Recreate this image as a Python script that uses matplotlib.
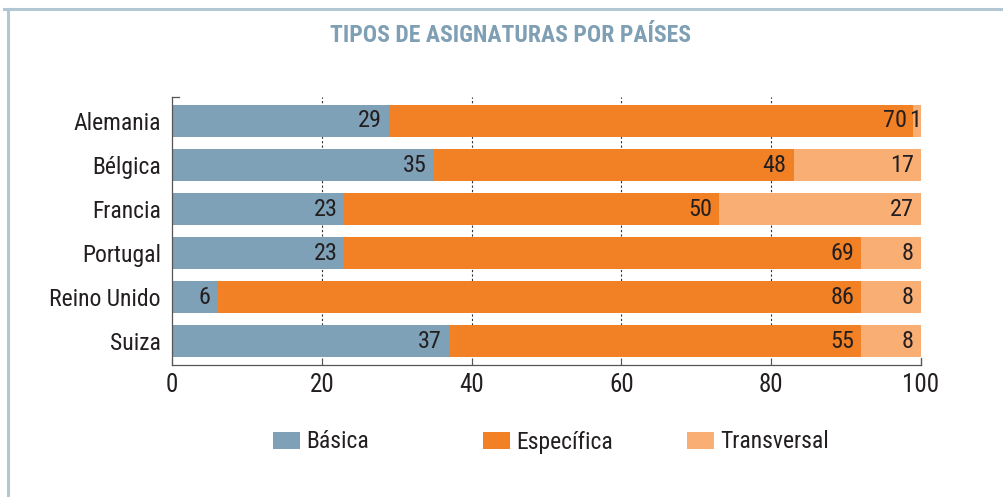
import matplotlib
matplotlib.use("Agg")
import matplotlib.pyplot as plt
from matplotlib import font_manager
from matplotlib.patches import Patch
from matplotlib.lines import Line2D

names = {f.name for f in font_manager.fontManager.ttflist}
FONT = None
for cand in ["Roboto Condensed", "Open Sans Condensed", "Liberation Sans Narrow", "Noto Sans Condensed"]:
    if cand in names:
        FONT = cand
        break
STRETCH = "normal"
if FONT is None:
    FONT = "DejaVu Sans"
    STRETCH = "condensed"
plt.rcParams['font.family'] = [FONT, 'DejaVu Sans']
plt.rcParams['font.stretch'] = STRETCH

countries = ["Alemania", "Bélgica", "Francia", "Portugal", "Reino Unido", "Suiza"]
basica = [29, 35, 23, 23, 6, 37]
especifica = [70, 48, 50, 69, 86, 55]
transversal = [1, 17, 27, 8, 8, 8]
series_names = ["Básica", "Específica", "Transversal"]
xticks = [0, 20, 40, 60, 80, 100]

colors = ["#7fa1b7", "#f28025", "#f9ae74"]
text_color = "#231f20"
FS = 17

fig = plt.figure(figsize=(10.04, 4.97), dpi=100)
ax = fig.add_axes([0.1713, 0.2656, 0.746, 0.5392])

# figure frame lines (top and left)
fig.add_artist(Line2D([0.004, 1.0], [1 - 9/497, 1 - 9/497], transform=fig.transFigure,
                      color="#b3c6d3", lw=2.2))
fig.add_artist(Line2D([8/1004, 8/1004], [0, 1 - 9/497], transform=fig.transFigure,
                      color="#b3c6d3", lw=2.2))

y = list(range(len(countries)))
h = 0.73
left = [0] * len(countries)
for vals, col in zip([basica, especifica, transversal], colors):
    ax.barh(y, vals, left=left, height=h, color=col, zorder=2)
    for yi, l, v in zip(y, left, vals):
        pad = 0 if v < 3 else -5
        ax.annotate(str(v), xy=(l + v, yi), xytext=(pad, 0), textcoords="offset points",
                    ha="right", va="center", fontsize=17.5, color=text_color, zorder=3)
    left = [a + b for a, b in zip(left, vals)]

ax.set_xlim(0, 100)
ax.set_ylim(5.545, -0.545)
ax.set_xticks(xticks)
ax.set_xticklabels([str(t) for t in xticks], fontsize=18, color=text_color)
ax.set_yticks(y)
ax.set_yticklabels(countries, fontsize=FS, color=text_color)
ax.tick_params(axis="y", length=0, pad=8)
ax.tick_params(axis="x", direction="in", length=5, width=0.8, color="#555555", pad=6)

for t in [20, 40, 60, 80]:
    ax.axvline(t, color="#333333", lw=0.8, ls=(0, (2, 2)), zorder=1)

for s in ["top", "right"]:
    ax.spines[s].set_visible(False)
for s in ["left", "bottom"]:
    ax.spines[s].set_color("#555555")
    ax.spines[s].set_linewidth(0.9)
ax.plot([0, 1.0], [-0.545, -0.545], color="#555555", lw=0.9, clip_on=False, zorder=4)
ax.plot([100, 100], [5.545, 5.38], color="#555555", lw=0.9, clip_on=False, zorder=4)

fig.text(0.5085, 1 - 36/497, "TIPOS DE ASIGNATURAS POR PAÍSES", ha="center", va="center",
         fontsize=17, fontweight="bold", color="#7f9fb5")

# legend entries at fixed column positions
leg_x = [273 / 1004, 483 / 1004, 687 / 1004]
for name, col, lx in zip(series_names, colors, leg_x):
    lg = fig.legend([Patch(facecolor=col, edgecolor="none")], [name], loc="center left",
                    bbox_to_anchor=(lx, 1 - 442/497), frameon=False, fontsize=FS,
                    handlelength=1.14, handleheight=0.76, handletextpad=0.25,
                    borderpad=0, borderaxespad=0, labelcolor=text_color)

fig.savefig("out.png", dpi=100, facecolor="white")
